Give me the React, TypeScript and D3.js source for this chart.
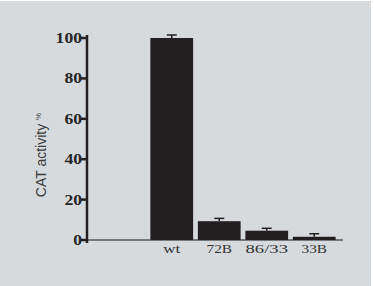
import React from "react";
import * as d3 from "d3";

const categories = ["wt", "72B", "86/33", "33B"];
const values = [100, 9.3, 4.6, 1.6];
const errors = [1.5, 1.4, 1.2, 1.5];
const yTicks = [0, 20, 40, 60, 80, 100];

const W = 374;
const H = 286;

export default function App() {
  const y = d3.scaleLinear().domain([0, 100]).range([240, 38]);
  const x = d3.scaleBand<string>().domain(categories).range([148, 338]).paddingInner(0.1).paddingOuter(0.05);
  const axisX = 87;
  const serif = "'Liberation Serif', 'DejaVu Serif', serif";
  const sans = "'Liberation Sans', Arial, sans-serif";
  return (
    <svg width={W} height={H} style={{ position: "absolute", left: 0, top: 0 }}>
      <rect x={0} y={0} width={W} height={H} fill="#ffffff" />
      <rect x={0} y={1} width={371} height={H - 1} fill="#d6dadd" />
      {/* x axis */}
      <line x1={axisX} x2={343} y1={y(0)} y2={y(0)} stroke="#55585a" strokeWidth={1.3} />
      {/* bars */}
      {categories.map((c, i) => (
        <g key={c}>
          <rect x={x(c)!} y={y(values[i])} width={x.bandwidth()} height={y(0) - y(values[i])} fill="#231f20" />
          <line x1={x(c)! + x.bandwidth() / 2} x2={x(c)! + x.bandwidth() / 2} y1={y(values[i])} y2={y(values[i] + errors[i])} stroke="#231f20" strokeWidth={1.5} />
          <line x1={x(c)! + x.bandwidth() / 2 - 5} x2={x(c)! + x.bandwidth() / 2 + 5} y1={y(values[i] + errors[i])} y2={y(values[i] + errors[i])} stroke="#231f20" strokeWidth={1.5} />
          <text x={x(c)! + x.bandwidth() / 2} y={253} textAnchor="middle" fontFamily={serif} fontSize={13}
            textLength={c.length * 8.5} lengthAdjust="spacingAndGlyphs" fill="#333">{c}</text>
        </g>
      ))}
      {/* y axis */}
      <line x1={axisX} x2={axisX} y1={y(100) - 3} y2={y(0) + 3} stroke="#231f20" strokeWidth={2.5} />
      {yTicks.map((t) => (
        <g key={t}>
          <line x1={axisX - 6} x2={axisX} y1={y(t)} y2={y(t)} stroke="#231f20" strokeWidth={2.5} />
          <text x={axisX - 5} y={y(t)} dy="0.36em" textAnchor="end" fontFamily={serif} fontWeight="bold" fontSize={14}
            textLength={String(t).length * 8.8} lengthAdjust="spacingAndGlyphs" fill="#262626">{t}</text>
        </g>
      ))}
      <text transform={`translate(46,${155}) rotate(-90)`} textAnchor="middle" fontFamily={sans} fontSize={14} fill="#3a3a3a">
        CAT activity <tspan fontSize={8} dy={-5}>%</tspan>
      </text>
    </svg>
  );
}
